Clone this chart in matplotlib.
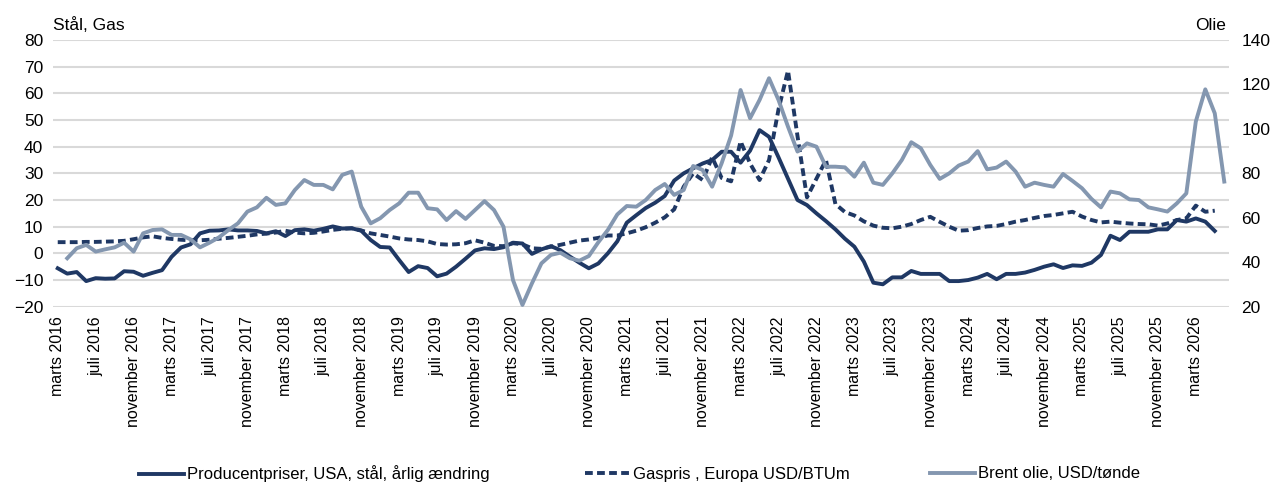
import numpy as np
import matplotlib
matplotlib.use("Agg")
import matplotlib.pyplot as plt
from matplotlib.lines import Line2D

plt.rcParams['font.family'] = ['Liberation Sans', 'DejaVu Sans']

# ---- data (monthly, marts 2016 .. juni 2026) ----
tick_labels = ["marts 2016", "juli 2016", "november 2016",
               "marts 2017", "juli 2017", "november 2017",
               "marts 2018", "juli 2018", "november 2018",
               "marts 2019", "juli 2019", "november 2019",
               "marts 2020", "juli 2020", "november 2020",
               "marts 2021", "juli 2021", "november 2021",
               "marts 2022", "juli 2022", "november 2022",
               "marts 2023", "juli 2023", "november 2023",
               "marts 2024", "juli 2024", "november 2024",
               "marts 2025", "juli 2025", "november 2025",
               "marts 2026"]

steel = [-5.6, -7.6, -7.0, -10.4, -9.3, -9.5, -9.4, -6.7, -6.9, -8.4,
         -7.3, -6.3, -1.3, 2.2, 3.4, 7.5, 8.5, 8.6, 9.0, 8.6,
         8.6, 8.4, 7.5, 8.3, 6.5, 8.7, 9.0, 8.5, 9.2, 10.1,
         9.3, 9.4, 8.5, 5.0, 2.4, 2.2, -2.5, -7.0, -4.8, -5.5,
         -8.6, -7.6, -5.0, -2.0, 1.1, 1.9, 1.6, 2.3, 4.0, 3.7,
         -0.2, 1.5, 2.7, 1.2, -1.2, -3.5, -5.6, -3.8, 0.0, 4.5,
         11.5, 14.3, 17.0, 19.0, 21.5, 27.3, 30.0, 31.9, 33.7, 35.0,
         38.1, 38.1, 34.0, 38.5, 46.2, 43.7, 36.0, 28.0, 20.0, 18.1,
         15.0, 12.1, 9.0, 5.5, 2.5, -3.1, -11.0, -11.6, -9.0, -9.0,
         -6.6, -7.7, -7.7, -7.7, -10.4, -10.4, -10.0, -9.1, -7.7, -9.7,
         -7.7, -7.7, -7.2, -6.2, -5.0, -4.1, -5.5, -4.5, -4.7, -3.5,
         -0.6, 6.6, 5.0, 8.1, 8.1, 8.1, 9.0, 9.0, 12.5, 11.9,
         13.1, 11.9, 8.4, None]

gas = [4.2, 4.2, 4.2, 4.3, 4.3, 4.4, 4.5, 4.7, 5.3, 6.0,
       6.4, 5.8, 5.4, 5.1, 4.9, 4.9, 5.1, 5.5, 5.8, 6.2,
       6.6, 7.1, 7.4, 7.8, 8.5, 7.8, 7.5, 7.7, 8.2, 8.8,
       9.2, 9.4, 8.6, 7.5, 6.9, 6.3, 5.6, 5.2, 5.0, 4.5,
       3.5, 3.3, 3.4, 3.8, 4.9, 4.0, 2.8, 2.7, 3.8, 3.4,
       1.9, 1.7, 2.5, 3.2, 4.0, 4.8, 5.2, 5.8, 6.7, 6.7,
       7.5, 8.5, 9.8, 11.5, 13.5, 16.5, 25.0, 30.0, 27.5, 36.0,
       28.3, 27.0, 42.0, 33.7, 27.5, 35.0, 54.0, 68.5, 44.0, 21.0,
       28.0, 35.0, 18.5, 15.5, 14.2, 12.0, 10.4, 9.6, 9.4, 10.0,
       11.0, 12.5, 13.7, 11.8, 10.0, 8.5, 8.7, 9.5, 10.1, 10.3,
       11.0, 11.9, 12.5, 13.3, 14.0, 14.4, 15.0, 15.6, 13.8, 12.5,
       11.6, 11.9, 11.5, 11.2, 11.0, 10.9, 10.4, 11.2, 12.5, 13.1,
       17.9, 15.6, 16.0, None]

brent = [None, 41.8, 46.3, 47.8, 44.8, 45.8, 46.7, 48.8, 44.8, 53.0,
         54.5, 54.8, 52.3, 52.3, 50.3, 46.7, 48.8, 51.2, 54.5, 57.5,
         62.8, 64.7, 69.0, 65.8, 66.5, 72.5, 77.0, 74.8, 74.8, 72.8,
         79.3, 80.8, 65.0, 57.5, 59.8, 63.5, 66.5, 71.3, 71.3, 64.3,
         63.8, 59.0, 63.0, 59.5, 63.5, 67.5, 63.5, 56.0, 32.0, 20.8,
         30.5, 39.5, 43.3, 44.3, 41.8, 40.7, 42.8, 49.0, 54.5, 61.5,
         65.3, 65.0, 68.0, 72.5, 75.2, 70.3, 72.5, 83.3, 81.5, 74.0,
         84.5, 97.0, 117.5, 104.8, 113.0, 122.8, 113.0, 101.0, 89.8, 93.5,
         92.0, 83.0, 83.0, 82.7, 78.5, 84.8, 75.8, 74.8, 80.0, 86.0,
         94.0, 91.3, 83.8, 77.5, 80.0, 83.5, 85.3, 90.0, 81.8, 82.6,
         85.3, 80.8, 74.0, 75.8, 74.8, 74.0, 79.7, 76.6, 73.3, 68.5,
         64.7, 71.8, 71.0, 68.3, 68.0, 64.7, 63.8, 62.8, 66.5, 71.0,
         103.3, 117.8, 107.0, 76.3]

labels = ["Producentpriser, USA, stål, årlig ændring",
          "Gaspris , Europa USD/BTUm",
          "Brent olie, USD/tønde"]

navy = '#1f3864'
grey = '#8497b0'
lw = 2.8
dash = (0, (2.0, 1.1))

x = np.arange(len(brent))
steel_a = np.array([np.nan if v is None else v for v in steel])
gas_a = np.array([np.nan if v is None else v for v in gas])
brent_a = np.array([np.nan if v is None else v for v in brent])

fig = plt.figure(figsize=(12.74, 4.84), dpi=100)
ax = fig.add_axes([53 / 1274, 1 - 306.7 / 484, (1229 - 53) / 1274, (306.7 - 40) / 484])

ax.plot(x, steel_a, color=navy, lw=lw, solid_joinstyle='round')
ax.plot(x, gas_a, color=navy, lw=lw, linestyle=dash)
ax.set_ylim(-20, 80)
ax.set_yticks(range(-20, 81, 10))
ax.set_xlim(-0.5, len(brent) - 0.5)
ax.set_xticks(range(0, 121, 4))
ax.set_xticklabels(tick_labels, rotation=90, fontsize=11.5)
ax.grid(axis='y', color='#d9d9d9', lw=1.5)
ax.set_axisbelow(True)
ax.tick_params(axis='y', length=0, pad=7, labelsize=12.5)
ax.tick_params(axis='x', length=0, pad=7)
for s in ax.spines.values():
    s.set_visible(False)

ax2 = ax.twinx()
ax2.plot(x, brent_a, color=grey, lw=lw, solid_joinstyle='round')
ax2.set_ylim(20, 140)
ax2.set_yticks(range(20, 141, 20))
ax2.tick_params(axis='y', length=0, pad=9, labelsize=12.5)
for s in ax2.spines.values():
    s.set_visible(False)

fig.text(53 / 1274, 1 - 30 / 484, "Stål, Gas", ha='left', va='baseline', fontsize=12.5)
fig.text(1226 / 1274, 1 - 30 / 484, "Olie", ha='right', va='baseline', fontsize=12.5)

# legend, one entry at a time like the original
handles = [Line2D([], [], color=navy, lw=lw),
           Line2D([], [], color=navy, lw=lw, linestyle=dash),
           Line2D([], [], color=grey, lw=lw)]
for h, lab, x0 in zip(handles, labels, [139, 585, 930]):
    fig.legend([h], [lab], loc='center left', bbox_to_anchor=(x0 / 1274, 1 - 474 / 484),
               frameon=False, fontsize=12, handlelength=2.7, handletextpad=0.2,
               borderpad=0, borderaxespad=0)

fig.savefig("out.png", dpi=100)
